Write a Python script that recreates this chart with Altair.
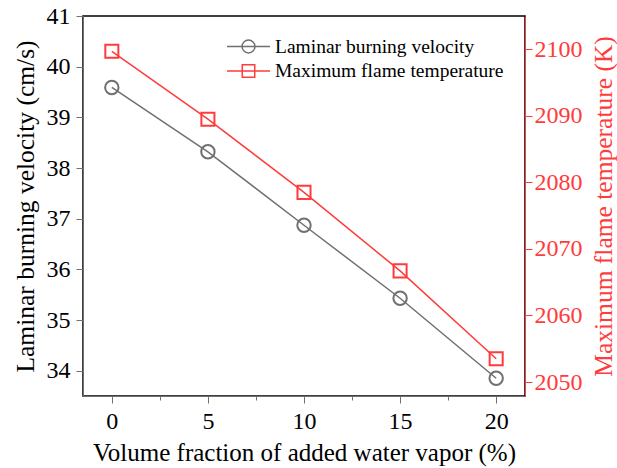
import altair as alt
import pandas as pd

water = [0, 5, 10, 15, 20]
velocity = [39.59, 38.32, 36.87, 35.43, 33.85]
temperature = [2099.7, 2089.5, 2078.5, 2066.7, 2053.5]
series = ["Laminar burning velocity", "Maximum flame temperature"]

GRAY = "#707070"
RED = "#ff3b3b"
FONT = "'Liberation Serif', 'Times New Roman', Times, serif"
LBL = 24
TTL = 25.5

df = pd.DataFrame({"water": water, "velocity": velocity, "temperature": temperature})
legend_df = pd.DataFrame({"series": series, "water": [0, 0], "velocity": [velocity[0], velocity[0]]})

x_enc = alt.X(
    "water:Q",
    scale=alt.Scale(domain=[-1.5, 21.5], nice=False, zero=False),
    axis=alt.Axis(
        title="Volume fraction of added water vapor (%)",
        values=[v / 2 for v in range(0, 41, 5)],
        labelExpr="datum.value % 5 != 0 ? '' : datum.label",
        tickSize={"condition": {"test": "datum.value % 5 != 0", "value": 4}, "value": 7},
        domainColor=GRAY, tickColor=GRAY, labelColor="black", titleColor="black",
        labelFont=FONT, titleFont=FONT, labelFontSize=LBL, titleFontSize=25,
        labelPadding=6, titleX=221, titleY=56, titleAlign="center", titleBaseline="middle",
        grid=False, titleFontWeight="normal",
    ),
)

vel_axis = alt.Axis(
    title="Laminar burning velocity (cm/s)", orient="left",
    values=[34 + i * 0.5 for i in range(15)],
    labelExpr="datum.value % 1 != 0 ? '' : datum.label",
    tickSize={"condition": {"test": "datum.value % 1 != 0", "value": 4}, "value": 7},
    domainColor=GRAY, tickColor=GRAY, labelColor="black", titleColor="black",
    labelFont=FONT, titleFont=FONT, labelFontSize=LBL, titleFontSize=TTL,
    labelPadding=6, titleX=-58, titleY=190, titleAngle=270, titleAlign="center",
    titleBaseline="middle", grid=False, titleFontWeight="normal",
)
vel_scale = alt.Scale(domain=[33.5, 41], nice=False, zero=False)

temp_axis = alt.Axis(
    title="Maximum flame temperature (K)", orient="right", format="d",
    values=[2050 + i * 5 for i in range(11)],
    labelExpr="datum.value % 10 != 0 ? '' : datum.label",
    tickSize={"condition": {"test": "datum.value % 10 != 0", "value": 4}, "value": 7},
    domainColor=RED, tickColor=RED, labelColor=RED, titleColor=RED,
    labelFont=FONT, titleFont=FONT, labelFontSize=LBL, titleFontSize=TTL,
    labelPadding=2, titleX=78, titleY=190, titleAngle=270, titleAlign="center",
    titleBaseline="middle", grid=False, titleFontWeight="normal",
)
temp_scale = alt.Scale(domain=[2047.9, 2105], nice=False, zero=False)

vel_line = alt.Chart(df).mark_line(color=GRAY, strokeWidth=1.5).encode(
    x=x_enc, y=alt.Y("velocity:Q", scale=vel_scale, axis=vel_axis)
)
vel_pts = alt.Chart(df).mark_point(shape="circle", size=180, color=GRAY, filled=False, strokeWidth=2, opacity=1).encode(
    x="water:Q", y="velocity:Q"
)

circ = "M-2,0H2M0.6,0A0.6,0.6 0 1,1 -0.6,0A0.6,0.6 0 1,1 0.6,0Z"
sq = "M-2,0H2M-0.58,-0.58H0.58V0.58H-0.58Z"
legend_pts = alt.Chart(legend_df).mark_point(opacity=0, filled=False).encode(
    x="water:Q", y="velocity:Q",
    color=alt.Color("series:N", scale=alt.Scale(domain=series, range=[GRAY, RED]),
                    legend=alt.Legend(title=None, orient="none", legendX=154, legendY=19,
                                      symbolOpacity=1, symbolSize=462, symbolStrokeWidth=1.5,
                                      symbolFillColor="transparent",
                                      labelFont=FONT, labelFontSize=19.5, labelColor="black",
                                      rowPadding=3.5, labelOffset=15, labelLimit=400)),
    shape=alt.Shape("series:N", scale=alt.Scale(domain=series, range=[circ, sq]), legend=None),
)

temp_line = alt.Chart(df).mark_line(color=RED, strokeWidth=1.5).encode(
    x="water:Q", y=alt.Y("temperature:Q", scale=temp_scale, axis=temp_axis)
)
temp_pts = alt.Chart(df).mark_point(shape="square", size=170, color=RED, filled=False, strokeWidth=2, opacity=1).encode(
    x="water:Q", y="temperature:Q"
)

chart = alt.layer(
    alt.layer(vel_line, vel_pts, legend_pts),
    alt.layer(temp_line, temp_pts),
).resolve_scale(y="independent").properties(
    width=442, height=380,
    autosize=alt.AutoSizeParams(type="none"),
    padding={"left": 83, "top": 16, "right": 92, "bottom": 72},
    background="white",
).configure_view(stroke="black", strokeWidth=1.5)

chart.save("out.html", embed_options={"renderer": "svg", "actions": False})
